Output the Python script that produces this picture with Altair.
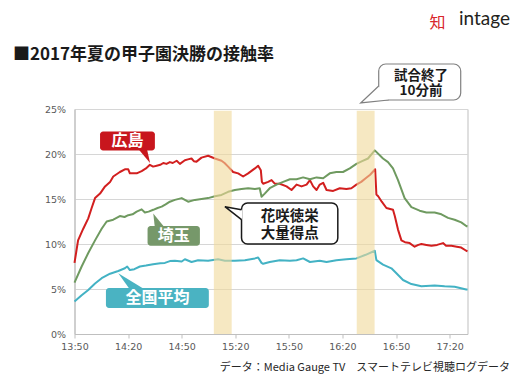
import altair as alt
import pandas as pd

# ---------------- data (minutes after 13:50, % contact rate) ----------------
red_t = [0, 2, 4.9, 7.7, 9.6, 11.5, 14.3, 17.1, 19.9, 21.7, 25.4, 28.2, 30.1, 31, 34.8,
         37.6, 40, 42.2, 44, 46, 48, 49.7, 51.5, 53.4, 55, 57.2, 59, 61.8, 63.5, 65.5,
         66.8, 68.3, 71.1, 74.8, 78.6, 82.3, 84, 86, 88.8, 91.6, 94.4, 97.2, 101, 102.8,
         104.3, 104.9, 105.6, 108.4, 110.3, 112.1, 114.9, 118.7, 121.5, 124.3, 127.1,
         129.9, 131.8, 133.6, 135.5, 137.3, 139.2, 141.1, 144.8, 148.5, 152.2, 155,
         157.8, 160.5, 163, 165.5, 168.3, 169, 170, 172, 174.6, 178.3, 179.3, 181.1,
         183, 185, 187.6, 190.4, 192.5, 194.2, 197, 199.8, 203, 206.3, 208, 211, 214,
         216.5, 219.3, 220]
red_v = [7.9, 10.4, 11.7, 12.85, 14.0, 15.1, 15.6, 16.4, 16.9, 17.5, 18.0, 18.3, 18.3,
         17.85, 17.85, 18.1, 18.4, 18.8, 18.6, 18.7, 18.8, 19.0, 18.9, 19.1, 19.0, 19.25,
         18.9, 19.3, 19.4, 19.5, 19.2, 19.15, 19.6, 19.8, 19.5, 19.25, 19.0, 18.6, 18.0,
         17.85, 17.5, 17.85, 18.4, 18.7, 18.2, 16.9, 16.7, 16.9, 17.1, 16.7, 16.7, 16.4,
         16.0, 16.6, 16.4, 16.6, 17.1, 16.4, 16.0, 16.6, 16.8, 16.0, 15.9, 16.2, 16.1,
         16.2, 16.6, 16.9, 17.3, 17.7, 18.3, 15.5, 15.3, 14.7, 14.0, 13.8, 13.1, 11.6,
         10.4, 10.2, 10.1, 9.7, 9.9, 10.0, 9.9, 9.8, 9.9, 10.1, 9.8, 9.8, 9.7, 9.6,
         9.25, 9.2]

green_t = [0, 4, 7.7, 11.5, 15.2, 18, 21.7, 25.4, 28, 30.1, 32.5, 34.8, 37.6, 39.4, 41.5,
           44.1, 46.5, 48.8, 51, 53.4, 56.2, 60, 63.6, 67.4, 71.1, 74.8, 78.6, 82.3, 86,
           89.8, 93.5, 97.2, 101, 103.7, 104.7, 106.5, 109.3, 113.1, 116.8, 120.6, 124.3,
           128, 131.8, 135.5, 139.2, 142.9, 146.6, 150.3, 154.1, 157.8, 161, 164.3, 168.1,
           172.7, 175.5, 178.3, 181.1, 184.8, 188.6, 193.2, 197, 201.6, 205.4, 209.1,
           212.8, 216.5, 219.3, 220]
green_v = [5.7, 7.5, 9.0, 10.4, 11.7, 12.5, 12.7, 13.1, 13.0, 13.2, 13.3, 13.6, 13.85,
           13.5, 13.6, 13.8, 14.0, 14.15, 14.4, 14.7, 14.9, 15.1, 14.7, 14.9, 15.0, 15.1,
           15.3, 15.45, 15.8, 16.0, 16.1, 16.2, 16.1, 16.2, 15.25, 15.6, 16.2, 16.6, 16.9,
           17.2, 17.2, 17.4, 17.2, 17.4, 17.3, 17.85, 18.0, 18.0, 18.4, 18.9, 19.2, 19.5,
           20.4, 19.5, 19.1, 18.4, 17.1, 15.1, 14.1, 13.7, 13.5, 13.5, 13.3, 12.9, 12.7,
           12.4, 12.0, 11.95]

blue_t = [0, 4, 7.7, 11.5, 15.2, 19.9, 24.5, 28.2, 29.5, 31, 33.5, 36.6, 40, 44, 48, 50.6,
          53.4, 56.2, 60, 61.8, 65.5, 69.2, 74.8, 80.4, 84.2, 89.8, 95.4, 101, 102.8,
          104.7, 105.6, 109.3, 114.9, 120.6, 124.3, 128, 131.8, 137.3, 141.1, 146.6,
          152.2, 157.8, 163, 168.1, 169, 172.7, 177.4, 180.2, 183.9, 188.6, 194.2, 201.6,
          207.2, 212.8, 219.3, 220]
blue_v = [3.6, 4.3, 4.9, 5.6, 6.2, 6.7, 7.0, 7.3, 7.5, 7.1, 7.2, 7.5, 7.6, 7.75, 7.85, 7.9,
          8.1, 8.15, 8.05, 8.3, 8.0, 8.2, 8.15, 8.3, 8.15, 8.15, 8.2, 8.4, 8.5, 7.9, 7.8,
          8.0, 8.2, 8.15, 8.2, 8.4, 8.0, 8.15, 8.0, 8.2, 8.3, 8.4, 8.8, 9.25, 8.2, 7.7,
          7.3, 6.75, 6.0, 5.55, 5.3, 5.4, 5.3, 5.25, 4.95, 4.95]

series_names = ["広島", "埼玉", "全国平均"]
series_colors = ["#d21f1f", "#6f9a60", "#43b2c4"]
box_colors = ["#c8161d", "#76986a", "#4ab3c2"]

x_tick_minutes = [0, 30, 60, 90, 120, 150, 180, 210]
x_tick_labels = ["13:50", "14:20", "14:50", "15:20", "15:50", "16:20", "16:50", "17:20"]
y_ticks = [0, 5, 10, 15, 20, 25]

band_start = [78, 158]
band_end = [88, 168]
band_top = 24.8

# colored label callouts
cb_x1 = [14.3, 40.9, 17.6]
cb_x2 = [45.0, 70.2, 75.2]
cb_y1 = [20.4, 9.8, 2.9]
cb_y2 = [22.5, 12.0, 5.1]
cb_tip_x = [42.3, 44.1, 24.5]
cb_tip_y = [19.0, 13.4, 6.75]
cb_base_y = [20.6, 11.8, 4.95]
cb_base_x1 = [35.5, 45.0, 31.0]
cb_base_x2 = [40.5, 50.6, 39.4]

# white note callouts
note1_lines = ["花咲徳栄", "大量得点"]
note2_lines = ["試合終了", "10分前"]

title_text = "■2017年夏の甲子園決勝の接触率"
source_text = "データ：Media Gauge TV　スマートテレビ視聴ログデータ"

# ---------------- build tables ----------------
rows = []
for name, col, ts, vs in zip(series_names, series_colors,
                             [red_t, green_t, blue_t], [red_v, green_v, blue_v]):
    assert len(ts) == len(vs), name
    for t, v in zip(ts, vs):
        rows.append({"s": name, "c": col, "t": t, "v": v})
lines_df = pd.DataFrame(rows)

bands_df = pd.DataFrame({"x1": band_start, "x2": band_end,
                         "y1": [0] * len(band_start), "y2": [band_top] * len(band_start)})

cbox_df = pd.DataFrame({"label": series_names, "x1": cb_x1, "x2": cb_x2, "y1": cb_y1,
                        "y2": cb_y2, "c": box_colors,
                        "xm": [(a + b) / 2 for a, b in zip(cb_x1, cb_x2)],
                        "ym": [(a + b) / 2 for a, b in zip(cb_y1, cb_y2)]})

ptr_rows = []
for i, name in enumerate(series_names):
    ptr_rows.append({"g": name, "c": box_colors[i], "py": cb_tip_y[i], "px": cb_tip_x[i], "px2": cb_tip_x[i]})
    ptr_rows.append({"g": name, "c": box_colors[i], "py": cb_base_y[i], "px": cb_base_x1[i], "px2": cb_base_x2[i]})
cptr_df = pd.DataFrame(ptr_rows)

X_SCALE = alt.Scale(domain=[0, 220], nice=False, zero=False)
Y_SCALE = alt.Scale(domain=[0, 25], nice=False, zero=False)

label_expr = "[" + ",".join("'%s'" % l for l in x_tick_labels) + "][round(datum.value / 30)]"

X_AXIS = alt.Axis(values=x_tick_minutes, labelExpr=label_expr, grid=False, ticks=True,
                  tickSize=4, tickColor="#bfbfbf", domainColor="#bfbfbf",
                  labelColor="#595959", labelFont="DejaVu Sans", labelFontSize=9.5,
                  labelPadding=3, labelFlush=False, labelOverlap=False, title=None)
Y_AXIS = alt.Axis(values=y_ticks, labelExpr="datum.value + '%'", grid=True,
                  gridColor="#d6d6d6", ticks=False, domainColor="#bfbfbf",
                  labelColor="#595959", labelFont="DejaVu Sans", labelFontSize=9.5,
                  labelPadding=9, labelFlush=False, title=None)


def X(f, **kw):
    return alt.X(f, type="quantitative", scale=X_SCALE, axis=X_AXIS, **kw)


def Y(f, **kw):
    return alt.Y(f, type="quantitative", scale=Y_SCALE, axis=Y_AXIS, **kw)


lines = alt.Chart(lines_df).mark_line(strokeWidth=2, strokeJoin="round").encode(
    x=X("t"), y=Y("v"),
    color=alt.Color("c:N", scale=None),
    detail="s:N",
)

bands = alt.Chart(bands_df).mark_rect(color="#f0d89a", opacity=0.6).encode(
    x=X("x1"), x2="x2", y=Y("y1"), y2="y2")

cptr = alt.Chart(cptr_df).mark_area(orient="horizontal").encode(
    y=Y("py", stack=None), x=X("px", stack=None), x2="px2",
    color=alt.Color("c:N", scale=None), detail="g:N")

cbox = alt.Chart(cbox_df).mark_rect(cornerRadius=3).encode(
    x=X("x1"), x2="x2", y=Y("y1"), y2="y2", color=alt.Color("c:N", scale=None))

ctext = alt.Chart(cbox_df).mark_text(font="Noto Sans CJK JP", fontWeight="bold",
                                     fontSize=16, color="white", baseline="middle").encode(
    x=X("xm"), y=Y("ym"), text="label:N")

# note 1: 花咲徳栄 大量得点
n1_box = pd.DataFrame({"x1": [93.5], "x2": [147.4], "y1": [10.0], "y2": [14.55]})
n1_fill = pd.DataFrame({"px": [84.2, 93.9], "py": [14.15, 12.7], "py2": [14.15, 13.8]})
n1_edge = pd.DataFrame({"px": [93.5, 84.2, 93.5], "py": [13.8, 14.15, 12.7], "o": [0, 1, 2]})
n1_txt = pd.DataFrame({"x": [120.5, 120.5], "y": [13.0, 11.15], "t": note1_lines})

# note 2: 試合終了 10分前
n2_box = pd.DataFrame({"x1": [170.3], "x2": [216.2], "y1": [26.0], "y2": [30.0]})
n2_fill = pd.DataFrame({"px": [160.2, 170.3, 175.9], "py": [25.67, 25.88, 26.0],
                        "py2": [25.67, 27.56, 26.0]})
n2_edge = pd.DataFrame({"px": [170.3, 160.2, 175.9], "py": [27.56, 25.67, 26.0], "o": [0, 1, 2]})
n2_txt = pd.DataFrame({"x": [194.0, 194.0], "y": [28.7, 26.95], "t": note2_lines})


def note_layers(box, fill, edge, txt, stroke, sw, radius, fs):
    b = alt.Chart(box).mark_rect(fill="white", stroke=stroke, strokeWidth=sw,
                                 cornerRadius=radius).encode(
        x=X("x1"), x2="x2", y=Y("y1"), y2="y2")
    f = alt.Chart(fill).mark_area(fill="white", orient="vertical").encode(
        x=X("px", stack=None), y=Y("py", stack=None), y2="py2")
    e = alt.Chart(edge).mark_line(stroke=stroke, strokeWidth=sw, strokeJoin="miter").encode(
        x=X("px"), y=Y("py"), order="o:Q")
    t = alt.Chart(txt).mark_text(font="Noto Sans CJK JP", fontWeight="bold", fontSize=fs,
                                 color="#1a1a1a", baseline="middle").encode(
        x=X("x"), y=Y("y"), text="t:N")
    return [b, f, e, t]


note1 = note_layers(n1_box, n1_fill, n1_edge, n1_txt, "#1a1a1a", 1.5, 6, 14.5)
note2 = note_layers(n2_box, n2_fill, n2_edge, n2_txt, "#808080", 1.2, 7, 13.5)

# page decorations (pixel offsets from the plot area's top-left corner)
title = alt.Chart(pd.DataFrame({"t": [title_text]})).mark_text(
    font="Noto Sans CJK JP", fontWeight="bold", fontSize=17, color="#1a1a1a",
    align="left", baseline="middle").encode(x=alt.value(-61.5), y=alt.value(-54), text="t:N")

src = alt.Chart(pd.DataFrame({"t": [source_text]})).mark_text(
    font="Noto Sans CJK JP", fontSize=11, color="#262626", align="right",
    baseline="middle").encode(x=alt.value(435.5), y=alt.value(259), text="t:N")

logo_icon = alt.Chart(pd.DataFrame({"t": ["知"]})).mark_text(
    font="Noto Sans CJK JP", fontSize=16, color="#d8262c", align="center",
    baseline="middle").encode(x=alt.value(363), y=alt.value(-86), text="t:N")
logo_word = alt.Chart(pd.DataFrame({"t": ["intage"]})).mark_text(
    font="Lato", fontSize=19, color="#231f20", align="left",
    baseline="middle").encode(x=alt.value(384.5), y=alt.value(-90), text="t:N")

chart = alt.layer(
    lines, bands, cptr, cbox, ctext, *note1, *note2, title, src, logo_icon, logo_word
).properties(
    width=393, height=225,
    padding={"left": 66.5, "top": 101, "right": 53.5, "bottom": 40},
    autosize="none",
).configure_view(stroke="#bfbfbf")

chart.save("out.html", embed_options={"renderer": "svg", "actions": False})
